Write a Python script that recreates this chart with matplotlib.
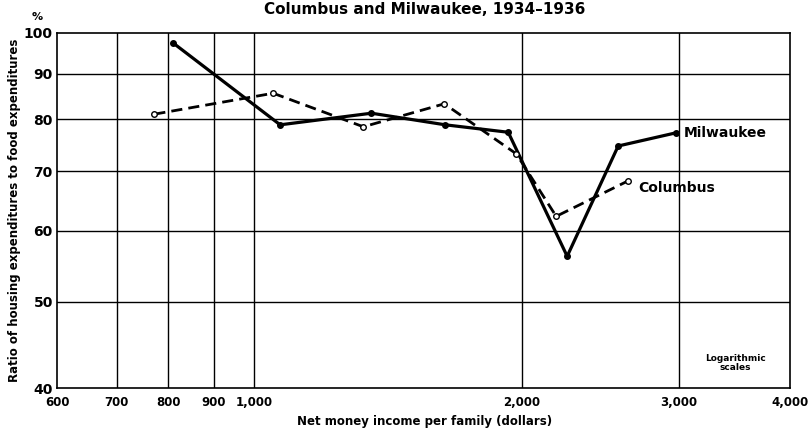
#!/usr/bin/python3
# -*- coding: utf-8 -*-
import matplotlib
matplotlib.use('Agg')
import matplotlib.pyplot as plt
from matplotlib.ticker import FixedLocator, FixedFormatter, NullLocator

plt.rcParams['font.family'] = ['DejaVu Sans']
plt.rcParams['font.weight'] = 'bold'

# data (income in dollars, ratio in %)
milw_income = [811, 1069, 1354, 1639, 1929, 2247, 2564, 2980]
milw_ratio = [97.4, 78.9, 81.3, 78.9, 77.4, 56.2, 74.7, 77.3]
col_income = [772, 1050, 1326, 1635, 1970, 2184, 2633]
col_ratio = [81.1, 85.6, 78.5, 83.3, 73.2, 62.3, 68.3]

xticks = [600, 700, 800, 900, 1000, 2000, 3000, 4000]
xticklabels = ['600', '700', '800', '900', '1,000', '2,000', '3,000', '4,000']
yticks = [40, 50, 60, 70, 80, 90, 100]
yticklabels = ['40', '50', '60', '70', '80', '90', '100']

fig = plt.figure(figsize=(8.11, 4.34), dpi=100)
ax = fig.add_axes([57/811, 1-388/434, (790-57)/811, (388-33)/434])
ax.set_xscale('log')
ax.set_yscale('log')
ax.set_xlim(600, 4000)
ax.set_ylim(40, 100)

# grid lines (the chart's ruling)
for xv in xticks[1:-1]:
    ax.axvline(xv, color='black', lw=1.0, zorder=1)
for yv in yticks[1:-1]:
    ax.axhline(yv, color='black', lw=1.0, zorder=1)

ax.plot(milw_income, milw_ratio, '-o', color='black', lw=2.3,
        ms=4, mfc='black', zorder=3)
ax.plot(col_income, col_ratio, '--o', color='black', lw=2.0,
        dashes=(4, 2.2), ms=4, mfc='white', mew=1.0, zorder=3)

ax.xaxis.set_major_locator(FixedLocator(xticks))
ax.xaxis.set_major_formatter(FixedFormatter(xticklabels))
ax.xaxis.set_minor_locator(NullLocator())
ax.yaxis.set_major_locator(FixedLocator(yticks))
ax.yaxis.set_major_formatter(FixedFormatter(yticklabels))
ax.yaxis.set_minor_locator(NullLocator())
ax.tick_params(axis='x', length=0, pad=6, labelsize=8.5)
ax.tick_params(axis='y', length=0, pad=3, labelsize=10)
for s in ax.spines.values():
    s.set_linewidth(1.2)

ax.text(2980*1.02, 77.3, 'Milwaukee', fontsize=10, va='center', ha='left')
ax.text(2633*1.025, 67.0, 'Columbus', fontsize=10, va='center', ha='left')
ax.text(0.925, 0.07, 'Logarithmic\nscales', transform=ax.transAxes,
        fontsize=6.5, ha='center', va='center', linespacing=1.0)

fig.text(425/811, 1-14/434, 'Columbus and Milwaukee, 1934\u20131936',
         fontsize=11, ha='center', va='baseline')
fig.text(37/811, 1-17/434, '%', fontsize=8, ha='center', va='center')
fig.text(15/811, 1-210/434, 'Ratio of housing expenditures to food expenditures',
         fontsize=8.5, rotation=90, ha='center', va='center')
fig.text(425/811, 1-421/434, 'Net money income per family (dollars)',
         fontsize=8.5, ha='center', va='center')

fig.savefig('out.png', dpi=100)
